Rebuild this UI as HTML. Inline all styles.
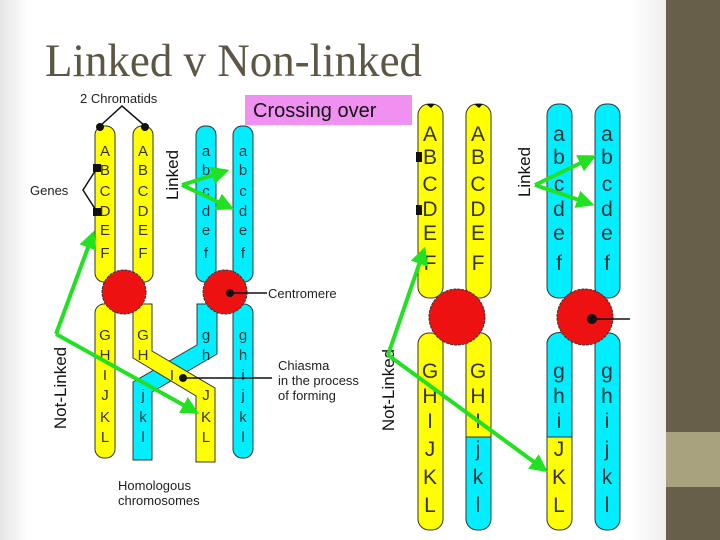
<!DOCTYPE html>
<html><head><meta charset="utf-8"><style>
html,body{margin:0;padding:0;background:#fff;}
svg{display:block;}
</style></head><body>
<svg width="720" height="540" viewBox="0 0 720 540" xmlns="http://www.w3.org/2000/svg">
<defs>
<linearGradient id="lg" x1="0" x2="1"><stop offset="0" stop-color="#e6e6e6"/><stop offset="1" stop-color="#fff"/></linearGradient>
<linearGradient id="rg" x1="0" x2="1"><stop offset="0" stop-color="#fff"/><stop offset="1" stop-color="#eeeeee"/></linearGradient>
<marker id="ah" viewBox="0 0 10 10" refX="8" refY="5" markerWidth="4.5" markerHeight="4.5" orient="auto"><path d="M0,0 L10,5 L0,10 z" fill="#22e022"/></marker>
</defs>
<rect x="0" y="0" width="720" height="540" fill="#fff"/>
<rect x="0" y="0" width="30" height="540" fill="url(#lg)"/>
<rect x="630" y="0" width="37" height="540" fill="url(#rg)"/>
<rect x="666" y="0" width="54" height="540" fill="#675f4a"/>
<rect x="666" y="432" width="54" height="55" fill="#a8a27f"/>
<text x="45" y="76" font-family="Liberation Serif, serif" font-size="47" fill="#5e5645" textLength="377" lengthAdjust="spacingAndGlyphs">Linked v Non-linked</text>

<g font-family="Liberation Sans, sans-serif" stroke="#333" stroke-width="1">
<rect x="95" y="126" width="20" height="156" rx="9" fill="#ffff00"/>
<rect x="133" y="126" width="20" height="156" rx="9" fill="#ffff00"/>
<rect x="196" y="126" width="20" height="156" rx="9" fill="#00eeff"/>
<rect x="233" y="126" width="20" height="156" rx="9" fill="#00eeff"/>
<rect x="95" y="304" width="20" height="154" rx="9" fill="#ffff00"/>
<rect x="233" y="304" width="20" height="154" rx="9" fill="#00eeff"/>
<path d="M197,304 h20 v50 L152,392 v68 h-19 v-78 L197,345 z" fill="#00eeff"/>
<path d="M133,304 h19 v47 L215,388 v74 h-19 v-66 L133,358 z" fill="#ffff00"/>
<circle cx="124" cy="292" r="22" fill="#ee1111" stroke-dasharray="3 1"/>
<circle cx="225" cy="292" r="22" fill="#ee1111" stroke-dasharray="3 1"/>
</g>
<g font-family="Liberation Sans, sans-serif" font-size="15" fill="#333" text-anchor="middle">
<text x="105" y="156">A</text><text x="105" y="175">B</text><text x="105" y="196">C</text><text x="105" y="216">D</text><text x="105" y="235">E</text><text x="105" y="258">F</text>
<text x="143" y="156">A</text><text x="143" y="175">B</text><text x="143" y="196">C</text><text x="143" y="216">D</text><text x="143" y="235">E</text><text x="143" y="258">F</text>
<text x="206" y="156">a</text><text x="206" y="175">b</text><text x="206" y="196">c</text><text x="206" y="216">d</text><text x="206" y="235">e</text><text x="206" y="258">f</text>
<text x="243" y="156">a</text><text x="243" y="175">b</text><text x="243" y="196">c</text><text x="243" y="216">d</text><text x="243" y="235">e</text><text x="243" y="258">f</text>
<text x="105" y="340">G</text><text x="105" y="360">H</text><text x="105" y="380">I</text><text x="105" y="400">J</text><text x="105" y="422">K</text><text x="105" y="442">L</text>
<text x="143" y="340">G</text><text x="143" y="360">H</text><text x="172" y="380">I</text><text x="206" y="400">J</text><text x="206" y="422">K</text><text x="206" y="442">L</text>
<text x="206" y="340">g</text><text x="206" y="360">h</text><text x="143" y="400">j</text><text x="143" y="422">k</text><text x="143" y="442">l</text>
<text x="243" y="340">g</text><text x="243" y="360">h</text><text x="243" y="380">i</text><text x="243" y="400">j</text><text x="243" y="422">k</text><text x="243" y="442">l</text>
</g>
<g font-family="Liberation Sans, sans-serif" font-size="13" fill="#222">
<text x="80" y="103">2 Chromatids</text>
<text x="30" y="195">Genes</text>
<text x="268" y="298">Centromere</text>
<text x="278" y="370">Chiasma</text>
<text x="278" y="385">in the process</text>
<text x="278" y="400">of forming</text>
<text x="118" y="490">Homologous</text>
<text x="118" y="505">chromosomes</text>
</g>
<g stroke="#111" stroke-width="1.5" fill="none">
<path d="M100,126 L122,106 L145,126"/>
<path d="M97,168 L83,190 L97,212"/>
<path d="M183,378 L272,378"/>
<path d="M230,293 L267,293"/>
</g>
<g fill="#111">
<circle cx="100" cy="127" r="4"/><circle cx="145" cy="127" r="4"/>
<rect x="93" y="164" width="8" height="8"/><rect x="93" y="208" width="8" height="8"/>
<circle cx="183" cy="378" r="4"/><circle cx="230" cy="293" r="4"/>
</g>
<rect x="245" y="95" width="167" height="30" fill="#f090f0"/>
<text x="253" y="117" font-family="Liberation Sans, sans-serif" font-size="20" fill="#111">Crossing over</text>

<g stroke="#333" stroke-width="1">
<rect x="418" y="104" width="25" height="194" rx="11" fill="#ffff00"/>
<rect x="466" y="104" width="25" height="194" rx="11" fill="#ffff00"/>
<rect x="547" y="104" width="25" height="194" rx="11" fill="#00eeff"/>
<rect x="595" y="104" width="25" height="194" rx="11" fill="#00eeff"/>
<rect x="418" y="333" width="25" height="197" rx="11" fill="#ffff00"/>
<rect x="466" y="333" width="25" height="197" rx="11" fill="#00eeff"/>
<path d="M466,344 a12,11 0 0 1 25,0 V437 H466 z" fill="#ffff00"/>
<rect x="547" y="333" width="25" height="197" rx="11" fill="#ffff00"/>
<path d="M547,344 a12,11 0 0 1 25,0 V437 H547 z" fill="#00eeff"/>
<rect x="595" y="333" width="25" height="197" rx="11" fill="#00eeff"/>
<circle cx="457" cy="317" r="28" fill="#ee1111" stroke-dasharray="3 1"/>
<circle cx="585" cy="317" r="28" fill="#ee1111" stroke-dasharray="3 1"/>
</g>
<line x1="592" y1="319" x2="630" y2="319" stroke="#111" stroke-width="1.5"/>
<circle cx="592" cy="319" r="5" fill="#111"/>
<rect x="416" y="152" width="6" height="10" fill="#111"/><rect x="416" y="205" width="6" height="10" fill="#111"/>
<path d="M474,104 h9 l-4,4 z M426,104 h9 l-4,4 z" fill="#111"/>
<g font-family="Liberation Sans, sans-serif" font-size="21" fill="#333" text-anchor="middle">
<text x="430" y="141">A</text><text x="430" y="164">B</text><text x="430" y="191">C</text><text x="430" y="216">D</text><text x="430" y="240">E</text><text x="430" y="270">F</text>
<text x="478" y="141">A</text><text x="478" y="164">B</text><text x="478" y="191">C</text><text x="478" y="216">D</text><text x="478" y="240">E</text><text x="478" y="270">F</text>
<text x="559" y="141">a</text><text x="559" y="164">b</text><text x="559" y="191">c</text><text x="559" y="216">d</text><text x="559" y="240">e</text><text x="559" y="270">f</text>
<text x="607" y="141">a</text><text x="607" y="164">b</text><text x="607" y="191">c</text><text x="607" y="216">d</text><text x="607" y="240">e</text><text x="607" y="270">f</text>
<text x="430" y="378">G</text><text x="430" y="403">H</text><text x="430" y="428">I</text><text x="430" y="456">J</text><text x="430" y="484">K</text><text x="430" y="512">L</text>
<text x="478" y="378">G</text><text x="478" y="403">H</text><text x="478" y="428">I</text><text x="478" y="456">j</text><text x="478" y="484">k</text><text x="478" y="512">l</text>
<text x="559" y="378">g</text><text x="559" y="403">h</text><text x="559" y="428">i</text><text x="559" y="456">J</text><text x="559" y="484">K</text><text x="559" y="512">L</text>
<text x="607" y="378">g</text><text x="607" y="403">h</text><text x="607" y="428">i</text><text x="607" y="456">j</text><text x="607" y="484">k</text><text x="607" y="512">l</text>
</g>

<g font-family="Liberation Sans, sans-serif" font-size="17" fill="#111" text-anchor="middle">
<text transform="translate(178,175) rotate(-90)">Linked</text>
<text transform="translate(530,172) rotate(-90)">Linked</text>
<text transform="translate(66,388) rotate(-90)">Not-Linked</text>
<text transform="translate(394,390) rotate(-90)">Not-Linked</text>
</g>

<g stroke="#22e022" stroke-width="4" fill="none" marker-end="url(#ah)" stroke-linejoin="miter">
<path d="M182,185 L226,171"/>
<path d="M182,185 L231,208"/>
<path d="M535,185 L593,157"/>
<path d="M535,185 L591,204"/>
<path d="M56,334 L93,234"/>
<path d="M56,334 L196,412"/>
<path d="M388,355 L424,250"/>
<path d="M388,355 L545,470"/>
</g>
</svg>
</body></html>
